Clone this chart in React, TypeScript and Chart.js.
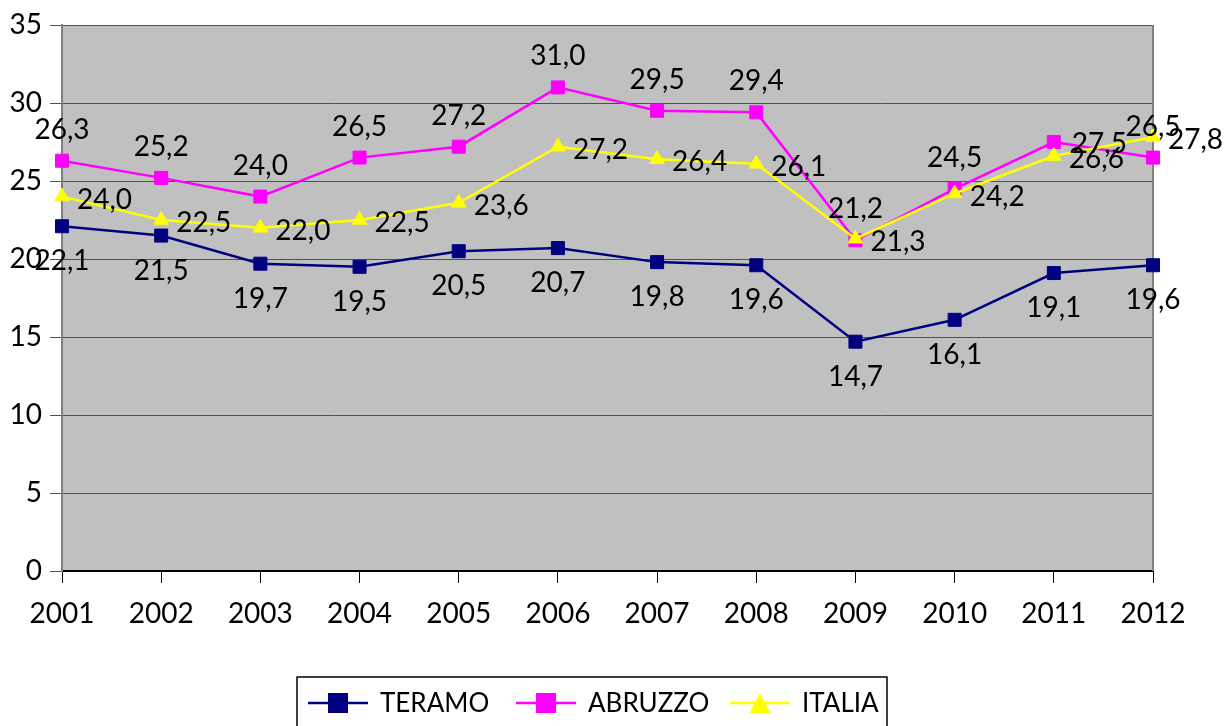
import React, { useEffect, useRef } from "react";
import { Chart, registerables } from "chart.js";

Chart.register(...registerables);

const years = ["2001", "2002", "2003", "2004", "2005", "2006", "2007", "2008", "2009", "2010", "2011", "2012"];
const teramo = [22.1, 21.5, 19.7, 19.5, 20.5, 20.7, 19.8, 19.6, 14.7, 16.1, 19.1, 19.6];
const abruzzo = [26.3, 25.2, 24.0, 26.5, 27.2, 31.0, 29.5, 29.4, 21.2, 24.5, 27.5, 26.5];
const italia = [24.0, 22.5, 22.0, 22.5, 23.6, 27.2, 26.4, 26.1, 21.3, 24.2, 26.6, 27.8];
const seriesNames = ["TERAMO", "ABRUZZO", "ITALIA"];
const seriesColors = ["#000080", "#FF00FF", "#FFFF00"];

const FONT = "Lato";
const FS = 28;
const LEGEND_FS = 26;

const fmt = (v: number) => v.toFixed(1).replace(".", ",");

const bgPlugin = {
  id: "plotBg",
  beforeDraw(chart: any) {
    const { ctx, chartArea: a } = chart;
    ctx.save();
    ctx.fillStyle = "#C0C0C0";
    ctx.fillRect(a.left, a.top, a.right - a.left, a.bottom - a.top);
    ctx.restore();
  },
  beforeDatasetsDraw(chart: any) {
    const { ctx, chartArea: a } = chart;
    ctx.save();
    ctx.strokeStyle = "#808080";
    ctx.lineWidth = 2;
    ctx.beginPath();
    ctx.moveTo(a.right, a.top);
    ctx.lineTo(a.right, a.bottom);
    ctx.stroke();
    ctx.restore();
  },
};

const labelPlugin = {
  id: "valueLabels",
  afterDatasetsDraw(chart: any) {
    const { ctx } = chart;
    ctx.save();
    ctx.font = `${FS}px ${FONT}`;
    ctx.fillStyle = "#000";
    chart.data.datasets.forEach((ds: any, i: number) => {
      const meta = chart.getDatasetMeta(i);
      meta.data.forEach((pt: any, j: number) => {
        const t = fmt(ds.data[j]);
        ctx.textBaseline = "middle";
        if (i === 0) {
          ctx.textAlign = "center";
          ctx.fillText(t, pt.x, pt.y + 35);
        } else if (i === 1 && j === 10) {
          ctx.textAlign = "left";
          ctx.fillText(t, pt.x + 18, pt.y + 2);
        } else if (i === 1) {
          ctx.textAlign = "center";
          ctx.fillText(t, pt.x, pt.y - 31);
        } else {
          ctx.textAlign = "left";
          ctx.fillText(t, pt.x + 15, pt.y + 3);
        }
      });
    });
    ctx.restore();
  },
};

const legendPlugin = {
  id: "customLegend",
  afterDraw(chart: any) {
    const { ctx } = chart;
    ctx.save();
    ctx.strokeStyle = "#000";
    ctx.lineWidth = 1.5;
    ctx.strokeRect(297, 677, 590, 80);
    const items = [
      { x0: 308, name: seriesNames[0], color: seriesColors[0], shape: "rect" },
      { x0: 516, name: seriesNames[1], color: seriesColors[1], shape: "rect" },
      { x0: 730, name: seriesNames[2], color: seriesColors[2], shape: "tri" },
    ];
    const y = 703;
    items.forEach((it) => {
      ctx.strokeStyle = it.color;
      ctx.lineWidth = 2.5;
      ctx.beginPath();
      ctx.moveTo(it.x0, y);
      ctx.lineTo(it.x0 + 60, y);
      ctx.stroke();
      ctx.fillStyle = it.color;
      const cx = it.x0 + 30;
      if (it.shape === "rect") {
        ctx.fillRect(cx - 10, y - 10, 20, 20);
      } else {
        ctx.beginPath();
        ctx.moveTo(cx, y - 10);
        ctx.lineTo(cx + 10.5, y + 10);
        ctx.lineTo(cx - 10.5, y + 10);
        ctx.closePath();
        ctx.fill();
      }
      ctx.fillStyle = "#000";
      ctx.font = `${LEGEND_FS}px ${FONT}`;
      ctx.textAlign = "left";
      ctx.textBaseline = "middle";
      ctx.fillText(it.name, it.x0 + 72, y + 1);
    });
    ctx.restore();
  },
};

export default function App() {
  const ref = useRef<HTMLCanvasElement | null>(null);
  useEffect(() => {
    if (!ref.current) return;
    const mk = (i: number, data: number[], style: string, r: number, order: number) => ({
      label: seriesNames[i],
      data,
      borderColor: seriesColors[i],
      backgroundColor: seriesColors[i],
      pointBackgroundColor: seriesColors[i],
      pointBorderColor: seriesColors[i],
      pointBorderWidth: 1,
      pointStyle: style,
      pointRadius: r,
      borderWidth: 2.5,
      tension: 0,
      order,
    });
    const chart = new Chart(ref.current, {
      type: "line",
      data: {
        labels: years,
        datasets: [
          mk(0, teramo, "rect", 9.2, 3),
          mk(1, abruzzo, "rect", 9.2, 2),
          mk(2, italia, "triangle", 8.5, 1),
        ] as any,
      },
      plugins: [bgPlugin, labelPlugin, legendPlugin],
      options: {
        animation: false,
        responsive: false,
        maintainAspectRatio: false,
        layout: { padding: { left: 0, right: 73, top: 25, bottom: 95 } },
        plugins: { legend: { display: false }, tooltip: { enabled: false } },
        scales: {
          x: {
            type: "category",
            offset: false,
            grid: { drawOnChartArea: false, drawTicks: true, tickLength: 12, color: "#000", lineWidth: 1 },
            border: { color: "#000", width: 2 },
            ticks: { color: "#000", font: { family: FONT, size: FS }, padding: 14, maxRotation: 0, autoSkip: false },
            afterFit: (s: any) => { s.height = 60; },
          },
          y: {
            min: 0,
            max: 35,
            grid: { color: "#505050", lineWidth: 1, tickLength: 12, drawTicks: true },
            border: { color: "#808080", width: 2 },
            ticks: { stepSize: 5, color: "#000", font: { family: FONT, size: FS }, padding: 8 },
            afterFit: (s: any) => { s.width = 62; },
          },
        },
      } as any,
    });
    return () => chart.destroy();
  }, []);
  return (
    <div style={{ position: "fixed", left: 0, top: 0, width: 1226, height: 726, background: "#fff" }}>
      <canvas ref={ref} width={1226} height={726} style={{ display: "block" }} />
    </div>
  );
}
